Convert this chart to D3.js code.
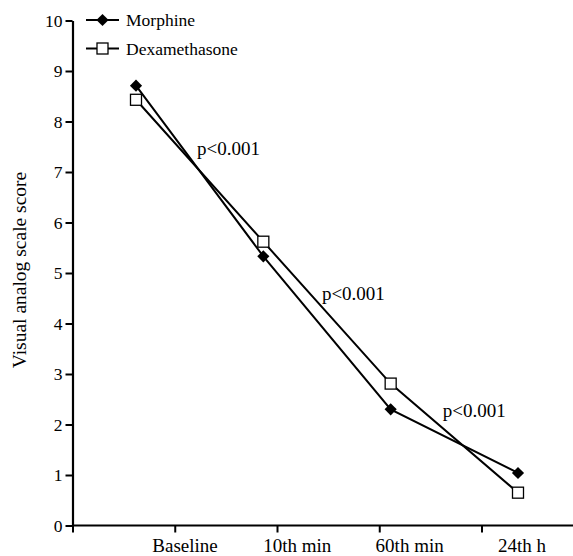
<!DOCTYPE html>
<html>
<head>
<meta charset="utf-8">
<script src="https://cdn.jsdelivr.net/npm/d3@7"></script>
<style>
  body { margin: 0; background: #fff; }
  text { font-family: "Liberation Serif", "Times New Roman", serif; fill: #000; }
</style>
</head>
<body>
<div id="chart"></div>
<script>
const categories = ["Baseline", "10th min", "60th min", "24th h"];
const morphine = [8.71, 5.33, 2.30, 1.04];
const dexamethasone = [8.43, 5.62, 2.81, 0.65];
const yTicks = [0, 1, 2, 3, 4, 5, 6, 7, 8, 9, 10];
const pLabels = ["p<0.001", "p<0.001", "p<0.001"];

const width = 573, height = 556;
const serif = "Liberation Serif, Times New Roman, serif";
const svg = d3.select("#chart").append("svg")
  .attr("width", width)
  .attr("height", height);

// scales
const y = d3.scaleLinear().domain([0, 10]).range([525.5, 20.5]);
const xPts = d3.scalePoint().domain(categories).range([136, 518]);
const xLab = d3.scalePoint().domain(categories).range([185, 522]);
const xTick = d3.scaleLinear().domain([0, 4]).range([72.5, 481.5]);

// y axis
const yAxis = svg.append("g")
  .attr("transform", "translate(72.5,0)")
  .call(d3.axisLeft(y).tickValues(yTicks).tickSize(7).tickPadding(3).tickSizeOuter(0))
  .attr("font-family", serif);
yAxis.select(".domain").attr("stroke-width", 2.2);
yAxis.selectAll(".tick line").attr("stroke-width", 2);
yAxis.selectAll(".tick text").attr("font-size", 17.5);

// x axis
const xAxis = svg.append("g")
  .attr("transform", "translate(0,525.5)")
  .call(d3.axisBottom(xTick).tickValues([0, 1, 2, 3, 4]).tickSize(7).tickFormat("").tickSizeOuter(0));
xAxis.select(".domain").attr("d", `M72.5,0H${width}`).attr("stroke-width", 2.2);
xAxis.selectAll(".tick line").attr("stroke-width", 2);

svg.append("g").selectAll("text")
  .data(categories)
  .join("text")
  .attr("x", d => xLab(d))
  .attr("y", 552)
  .attr("text-anchor", "middle")
  .attr("font-size", 19)
  .text(d => d);

// y label
svg.append("text")
  .attr("transform", `translate(25.5,${y(5) - 3}) rotate(-90)`)
  .attr("text-anchor", "middle")
  .attr("font-size", 19.5)
  .text("Visual analog scale score");

// lines
const line = d3.line().x((d, i) => xPts(categories[i])).y(d => y(d));

svg.append("path").datum(dexamethasone)
  .attr("d", line).attr("fill", "none").attr("stroke", "#000").attr("stroke-width", 2);
svg.append("path").datum(morphine)
  .attr("d", line).attr("fill", "none").attr("stroke", "#000").attr("stroke-width", 2);

// markers
svg.append("g").selectAll("path")
  .data(morphine)
  .join("path")
  .attr("transform", (d, i) => `translate(${xPts(categories[i])},${y(d)}) rotate(45)`)
  .attr("d", d3.symbol().type(d3.symbolSquare).size(74))
  .attr("fill", "#000");

svg.append("g").selectAll("rect")
  .data(dexamethasone)
  .join("rect")
  .attr("x", (d, i) => xPts(categories[i]) - 5.5)
  .attr("y", d => y(d) - 5.5)
  .attr("width", 11)
  .attr("height", 11)
  .attr("fill", "#fff")
  .attr("stroke", "#000")
  .attr("stroke-width", 1.3);

// p-value annotations, x in steps from the first time point, y in score units
const pPos = [[0.48, 7.34], [1.46, 4.47], [2.41, 2.15]];
svg.append("g").selectAll("text")
  .data(pLabels)
  .join("text")
  .attr("x", (d, i) => xPts(categories[0]) + pPos[i][0] * xPts.step())
  .attr("y", (d, i) => y(pPos[i][1]))
  .attr("font-size", 19)
  .text(d => d);

// legend
const legend = svg.append("g").attr("transform", "translate(86,20)");
const series = [{ name: "Morphine", fill: "#000" }, { name: "Dexamethasone", fill: "#fff" }];
series.forEach((s, i) => {
  const g = legend.append("g").attr("transform", `translate(0,${i * 28.5})`);
  g.append("line").attr("x1", 0).attr("x2", 33).attr("y1", 0).attr("y2", 0)
    .attr("stroke", "#000").attr("stroke-width", 2);
  if (i === 0) {
    g.append("path").attr("transform", "translate(16.5,0) rotate(45)")
      .attr("d", d3.symbol().type(d3.symbolSquare).size(74)).attr("fill", "#000");
  } else {
    g.append("rect").attr("x", 11).attr("y", -5.5).attr("width", 11).attr("height", 11)
      .attr("fill", "#fff").attr("stroke", "#000").attr("stroke-width", 1.3);
  }
  g.append("text").attr("x", 40).attr("y", 6).attr("font-size", 17.5).text(s.name);
});
</script>
</body>
</html>
